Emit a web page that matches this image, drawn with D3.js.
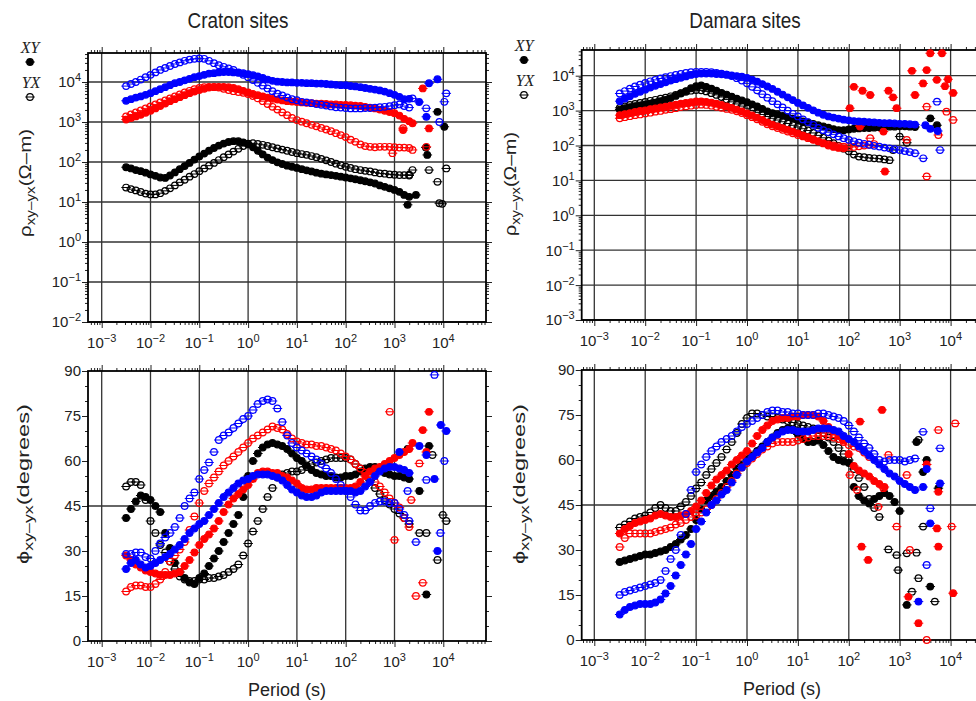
<!DOCTYPE html>
<html>
<head>
<meta charset="utf-8">
<script src="https://cdn.jsdelivr.net/npm/d3@7"></script>
<style>
body { margin: 0; background: #fff; }
svg { display: block; }
text { font-family: "Liberation Sans", Arial, sans-serif; fill: #222; }
text.serif { font-family: "Liberation Serif", "Times New Roman", serif; font-style: italic; }
</style>
</head>
<body>
<svg id="chart" width="976" height="701"></svg>
<script>
// periods (s) of the continuous part of every sounding
const periods = [0.00316, 0.00398, 0.00501, 0.00631, 0.00794,
  0.01, 0.0126, 0.0158, 0.02, 0.0251, 0.0316, 0.0398, 0.0501, 0.0631, 0.0794,
  0.1, 0.126, 0.158, 0.2, 0.251, 0.316, 0.398, 0.501, 0.631, 0.794,
  1, 1.26, 1.58, 2, 2.51, 3.16, 3.98, 5.01, 6.31, 7.94,
  10, 12.6, 15.8, 20, 25.1, 31.6, 39.8, 50.1, 63.1, 79.4,
  100, 126, 158, 200, 251, 316, 398, 501, 631, 794,
  1000, 1260, 1580, 2000];

// apparent resistivity (ohm-m), Craton sites
const cratonRhoSite1XY = [74, 69, 63, 59, 54, 49, 45, 41, 40, 46, 55, 66, 79, 95, 115, 138, 162, 191, 224, 257, 288, 316, 331, 331, 309, 275, 234, 191, 155, 129, 112, 98, 89, 81, 76, 71, 66, 62, 58, 54, 51, 49, 47, 45, 43, 41, 39, 37, 35, 33, 31, 29, 26, 24, 22, 20, 18, 15, 13.5];
const cratonRhoSite1YX = [23, 21, 19.5, 17.8, 16.2, 15.5, 15.5, 16.6, 19, 22, 26, 31, 36, 43, 50, 59, 69, 81, 95, 112, 132, 155, 182, 214, 251, 288, 295, 282, 269, 251, 234, 219, 204, 191, 178, 166, 158, 151, 141, 132, 120, 110, 100, 91, 83, 76, 71, 66, 63, 60, 58, 55, 52, 51, 49, 48, 47, 47, 46];
const cratonRhoSite2XY = [1150, 1260, 1380, 1510, 1700, 1910, 2190, 2510, 2880, 3310, 3720, 4170, 4680, 5250, 5750, 6310, 6760, 7240, 7410, 7590, 7590, 7410, 7080, 6610, 6030, 5500, 5010, 4680, 4370, 4070, 3800, 3630, 3470, 3310, 3240, 3160, 3090, 3020, 2950, 2880, 2880, 2820, 2750, 2750, 2690, 2690, 2630, 2570, 2510, 2400, 2290, 2190, 2040, 1910, 1780, 1660, 1450, 1200, 1050];
const cratonRhoSite2YX = [1380, 1550, 1740, 1950, 2190, 2450, 2750, 3090, 3470, 3890, 4370, 4900, 5500, 6030, 6610, 7080, 7410, 7590, 7590, 7240, 6760, 6310, 5890, 5620, 5370, 5010, 4470, 3890, 3310, 2820, 2400, 2040, 1740, 1480, 1260, 1120, 1020, 930, 850, 780, 710, 650, 590, 525, 470, 420, 360, 320, 275, 250, 240, 234, 240, 240, 240, 234, 229, 229, 224];
const cratonRhoSite3XY = [3390, 3720, 4070, 4370, 4790, 5250, 5890, 6610, 7410, 8320, 9330, 10000, 11000, 12000, 13200, 14100, 15100, 16200, 16600, 17400, 17800, 17800, 17400, 17000, 16600, 15800, 14800, 13800, 12600, 11500, 10700, 10200, 10000, 9770, 9770, 9550, 9550, 9330, 9330, 9120, 9120, 8910, 8710, 8510, 8320, 8320, 7940, 7760, 7410, 7080, 6760, 6460, 6170, 5750, 5250, 4790, 4270, 3720, 3800];
const cratonRhoSite3YX = [7900, 8900, 10000, 11500, 13200, 15100, 17400, 20000, 22400, 25100, 28200, 30900, 33900, 36300, 38000, 38900, 38000, 33900, 29500, 26300, 24000, 21900, 20000, 17400, 15100, 13200, 11200, 9500, 8100, 6900, 5900, 5100, 4600, 4100, 3700, 3500, 3200, 3100, 2950, 2800, 2700, 2570, 2450, 2340, 2290, 2240, 2190, 2190, 2190, 2240, 2240, 2290, 2340, 2400, 2500, 2630, 2750, 2500, 2290];

// phase (degrees), Craton sites
const cratonPhaseSite1XY = [41, 44, 46.5, 48.5, 48, 47, 45, 43, 36, 31, 26, 23, 21, 19.5, 19, 21, 22.5, 25, 27.5, 30, 33, 36, 39, 42, 48, 55, 60, 62.5, 64.5, 65.5, 66, 65.5, 65, 64, 62.5, 61, 60, 58.5, 57, 56, 55.5, 55, 55, 54.5, 54.5, 55, 55, 55.5, 56.5, 57.5, 58, 58, 57, 56, 55.5, 55, 55, 54.5, 54];
const cratonPhaseSite1YX = [51.5, 53, 53, 52, 47, 40, 36, 32, 29.5, 26.5, 24, 21.5, 20.5, 20, 20, 20.5, 20.5, 21, 21, 21.5, 22, 23, 24, 25.5, 28.5, 32.5, 36.5, 40, 44, 48, 51, 54.5, 55.5, 56, 56.5, 56.5, 57, 58, 59, 59.5, 60, 60.5, 61, 61, 61, 61, 60.5, 59, 57.5, 56, 53.5, 51, 49, 47, 45.5, 44, 42.5, 41, 39];
const cratonPhaseSite2XY = [28.5, 27, 25.5, 24.5, 23.5, 23, 22.5, 22, 22, 22, 22.5, 23, 25, 27, 29.5, 32, 34, 35.5, 37.5, 40, 43, 45.5, 47.5, 49, 50.5, 52, 54, 56, 56.5, 56.5, 56, 56, 55, 54.5, 53.5, 52.5, 51, 50.5, 50.5, 51, 51, 51, 51, 51, 51, 51, 51, 51.5, 53, 55, 56.5, 57.5, 58, 59, 60, 61, 62, 63, 64];
const cratonPhaseSite2YX = [16.5, 18, 18.5, 18.5, 18, 18, 19, 20.5, 23, 26.5, 28.5, 30.5, 33, 37, 41.5, 46, 50, 52.5, 54.5, 56.5, 58.5, 60, 61.5, 63, 64.5, 66, 67.5, 68.5, 69.5, 70.5, 71.5, 71, 70.5, 69, 67.5, 66.5, 66, 65.5, 65.5, 65, 65, 64.5, 64, 63.5, 62.5, 61.5, 60.5, 59, 57.5, 56, 54.5, 53, 51.5, 49.5, 47.5, 46, 44.5, 41, 38];
const cratonPhaseSite3XY = [24, 26, 27, 25.5, 24.5, 25, 26, 27, 28, 29, 30.5, 32, 34, 36, 37.5, 39, 40, 42, 44, 46, 48, 49.5, 51, 52.5, 53.5, 54, 55, 55.5, 55.5, 55.5, 55, 54.5, 53.5, 52, 50.5, 49.5, 48.5, 48, 48, 48.5, 49.5, 50, 50, 50, 50, 50, 50, 49.5, 50, 51.5, 53, 55, 56.5, 57.5, 58, 58, 57.5, 57, 56];
const cratonPhaseSite3YX = [29, 29, 29.5, 29.5, 28, 27.5, 30, 32.5, 34.5, 36, 38, 41, 45, 47.5, 49.5, 54, 57, 59.5, 63, 67, 68.5, 69.5, 71, 72.5, 74, 75, 77, 79, 80, 80.5, 80, 77.5, 73, 68.5, 66, 64.5, 63.5, 62.5, 61.5, 60.5, 59, 57.5, 56, 54, 52, 50, 48, 45.5, 43.5, 43.5, 45, 46, 46.5, 46.5, 46, 46, 44, 42, 40];

// apparent resistivity (ohm-m), Damara sites
const damaraRhoSite1XY = [1070, 1170, 1260, 1350, 1410, 1480, 1580, 1700, 1860, 2040, 2290, 2630, 3090, 3630, 4370, 5010, 5250, 4790, 4270, 3720, 3240, 2880, 2510, 2190, 1950, 1740, 1510, 1320, 1120, 955, 850, 776, 708, 646, 589, 537, 490, 457, 417, 380, 355, 324, 295, 275, 275, 288, 302, 309, 316, 316, 324, 331, 339, 347, 347, 355, 355, 347, 339];
const damaraRhoSite1YX = [1200, 1320, 1450, 1550, 1660, 1780, 1910, 2040, 2190, 2340, 2570, 2820, 3160, 3470, 3720, 3890, 3800, 3550, 3160, 2820, 2450, 2090, 1780, 1550, 1350, 1170, 1020, 890, 776, 676, 603, 537, 479, 427, 380, 339, 302, 269, 229, 195, 166, 138, 117, 98, 81, 68, 55, 48, 46, 44, 43, 42, 40, 38];
const damaraRhoSite2XY = [741, 794, 851, 912, 977, 1020, 1100, 1150, 1230, 1290, 1380, 1480, 1580, 1660, 1740, 1820, 1820, 1780, 1700, 1580, 1450, 1320, 1200, 1070, 955, 832, 724, 631, 537, 457, 398, 355, 316, 282, 251, 224, 195, 174, 151, 132, 115, 100, 91, 85, 83];
const damaraRhoSite2YX = [603, 646, 692, 741, 776, 832, 871, 933, 977, 1050, 1100, 1170, 1260, 1320, 1380, 1450, 1480, 1450, 1380, 1290, 1200, 1120, 1050, 955, 851, 741, 646, 562, 479, 407, 355, 316, 282, 251, 224, 200, 182, 162, 145, 132, 117, 107, 100, 95, 93, 91, 91, 95, 100, 105, 110];
const damaraRhoSite3XY = [1860, 2190, 2570, 3020, 3470, 3980, 4570, 5130, 5750, 6460, 7240, 7940, 8710, 9550, 10500, 11200, 11500, 11500, 11500, 11200, 11000, 10700, 10200, 9770, 9330, 8710, 7760, 6760, 5750, 4900, 4170, 3470, 2880, 2400, 2000, 1660, 1410, 1200, 1020, 870, 760, 680, 630, 590, 550, 525, 500, 490, 479, 468, 457, 447, 437, 437, 427, 417, 417, 407, 398];
const damaraRhoSite3YX = [3090, 3630, 4270, 4900, 5500, 6170, 6920, 7590, 8320, 9120, 9770, 10500, 11200, 12000, 12600, 12900, 12900, 12900, 12600, 12000, 11500, 10700, 9770, 8510, 7240, 6030, 4790, 3800, 2950, 2340, 1860, 1510, 1230, 1000, 810, 680, 560, 470, 390, 320, 275, 240, 209, 182, 162, 145, 132, 120, 112, 105, 98, 93, 87, 83, 78, 74, 69, 65, 60];

// phase (degrees), Damara sites
const damaraPhaseSite1XY = [26, 26.5, 27, 27.5, 28, 28.5, 28.5, 29, 29.5, 30, 31, 32, 33.5, 35, 37, 40, 43.5, 46.5, 48, 49.5, 51, 53, 55, 57, 58.5, 60, 61.5, 63, 64.5, 66, 67.5, 69, 70, 70.5, 70, 68.5, 67, 66, 66, 66.5, 65, 63, 61, 60, 59.5, 59, 51, 48, 46.5, 45.5, 47, 48, 49, 48, 46, 43];
const damaraPhaseSite1YX = [37.5, 38.5, 39.5, 40.5, 41, 41.5, 42.5, 44, 45, 44, 43, 43, 44.5, 46, 48, 50.5, 52.5, 55, 57, 59, 61, 63.5, 66, 69, 72, 74, 75.5, 75.5, 75, 74.5, 74.5, 74, 73.5, 73, 72.5, 72, 71.5, 71, 70.5, 70, 69, 67.5, 66, 64, 62, 60, 57, 54, 51, 47, 44, 41];
const damaraPhaseSite2XY = [35.5, 37, 38, 39, 39.5, 40, 40.5, 41.5, 42, 41.5, 41, 41, 41.5, 42, 43, 44.5, 46.5, 49, 51.5, 53.5, 55, 56.5, 58.5, 60, 61.5, 63, 65.5, 68, 70, 71.5, 73, 73.5, 74, 74, 74.5, 74.5, 75, 75, 75, 74.5, 73, 71, 69.5, 68, 66.5, 62, 58, 56.5, 55.5, 54.5, 53, 52, 51];
const damaraPhaseSite2YX = [31, 34, 35.5, 35.5, 35.5, 35.5, 35.5, 36, 36.5, 37, 37.5, 38.5, 39, 40, 41, 41.5, 42.5, 43.5, 45, 47, 49, 51, 53, 55.5, 57.5, 59, 60.5, 62, 63.5, 64.5, 65.5, 66, 66, 66, 66, 66.5, 67, 67.5, 68, 68, 68, 68, 67.5, 67, 66, 65, 64.5, 64, 62.5, 61];
const damaraPhaseSite3XY = [8.5, 10, 11, 11.5, 12, 12, 12, 12.5, 13.5, 15.5, 18, 21.5, 25, 28.5, 32, 37, 39.5, 42.5, 45, 46.5, 48.5, 50, 52.5, 55, 57.5, 59.5, 61, 62.5, 64, 66, 67.5, 68.5, 69.5, 70, 70, 69.5, 69.5, 69.5, 70, 70.5, 70.5, 70.5, 70, 69.5, 68, 67, 66, 64.5, 63, 61.5, 60, 58.5, 57, 55.5, 54.5, 53, 52, 51, 50];
const damaraPhaseSite3YX = [15, 16, 16.5, 17, 17.5, 18, 18.5, 19, 20, 23, 27, 30, 35, 42, 50, 56, 58.5, 61, 63, 64.5, 66, 67, 68, 69.5, 71, 72, 73, 74, 75, 76, 76.5, 76.5, 76, 76, 75.5, 75.5, 75, 75, 75, 75.5, 75.5, 75, 74.5, 74, 73, 71.5, 69.5, 67.5, 65.5, 64, 62, 60, 59.5, 60, 60, 60, 59.5, 60, 60.5];

// scattered long-period estimates: [site, mode, period (s), value]
const cratonRhoScatter = [
  ["site3", "XY", 3200, 3160], ["site3", "XY", 4500, 1350], ["site3", "XY", 5100, 9300], ["site3", "XY", 7600, 11700],
  ["site3", "YX", 2340, 3900], ["site3", "YX", 4470, 2200], ["site3", "YX", 11500, 5200], ["site3", "YX", 10500, 3200], ["site3", "YX", 8300, 1000],
  ["site2", "XY", 2340, 930], ["site2", "XY", 3800, 6900], ["site2", "XY", 5100, 690], ["site2", "XY", 1500, 630],
  ["site2", "YX", 910, 166], ["site2", "YX", 2340, 200], ["site2", "YX", 4500, 240], ["site2", "YX", 1500, 700],
  ["site1", "XY", 1860, 8.5], ["site1", "XY", 2750, 15], ["site1", "XY", 4400, 230], ["site1", "XY", 4700, 150], ["site1", "XY", 7600, 1800], ["site1", "XY", 10500, 760],
  ["site1", "YX", 2340, 63], ["site1", "YX", 5100, 63], ["site1", "YX", 11500, 69], ["site1", "YX", 7600, 32], ["site1", "YX", 8300, 9.3], ["site1", "YX", 9500, 9], ["site1", "YX", 2000, 48]
];
const cratonPhaseScatter = [
  ["site1", "XY", 3240, 50], ["site1", "XY", 5100, 65], ["site1", "XY", 1860, 64], ["site1", "XY", 4500, 15.5],
  ["site1", "YX", 4500, 36], ["site1", "YX", 6000, 62], ["site1", "YX", 9800, 42], ["site1", "YX", 11500, 40], ["site1", "YX", 7600, 27], ["site1", "YX", 3240, 36],
  ["site2", "XY", 3800, 70.3], ["site2", "XY", 5100, 76.4], ["site2", "XY", 2340, 66], ["site2", "XY", 4500, 63],
  ["site2", "YX", 800, 76.4], ["site2", "YX", 3240, 59.2], ["site2", "YX", 1000, 33.7], ["site2", "YX", 3800, 19.4], ["site2", "YX", 2750, 15], ["site2", "YX", 2200, 47],
  ["site3", "XY", 1260, 63], ["site3", "XY", 3240, 65], ["site3", "XY", 8900, 72], ["site3", "XY", 11500, 70], ["site3", "XY", 6600, 54], ["site3", "XY", 7600, 30], ["site3", "XY", 4500, 62],
  ["site3", "YX", 2750, 33], ["site3", "YX", 6600, 88.7], ["site3", "YX", 10500, 60], ["site3", "YX", 8700, 36], ["site3", "YX", 4500, 53.7], ["site3", "YX", 1860, 50]
];
const damaraRhoScatter = [
  ["site1", "XY", 4000, 600], ["site1", "XY", 5400, 380],
  ["site1", "YX", 740, 74], ["site1", "YX", 1000, 180], ["site1", "YX", 1380, 120],
  ["site2", "XY", 126, 4800], ["site2", "XY", 186, 3700], ["site2", "XY", 263, 2800], ["site2", "XY", 603, 3700], ["site2", "XY", 741, 2400],
  ["site2", "XY", 871, 1170], ["site2", "XY", 1740, 13800], ["site2", "XY", 2000, 2800], ["site2", "XY", 2880, 6000], ["site2", "XY", 3390, 14500],
  ["site2", "XY", 3980, 44000], ["site2", "XY", 5370, 7600], ["site2", "XY", 6760, 44000], ["site2", "XY", 7760, 5000], ["site2", "XY", 8910, 7900],
  ["site2", "XY", 11200, 3200], ["site2", "XY", 513, 18], ["site2", "XY", 105, 1170], ["site2", "XY", 480, 250], ["site2", "XY", 166, 350],
  ["site2", "YX", 166, 390], ["site2", "YX", 263, 162], ["site2", "YX", 1380, 145], ["site2", "YX", 3390, 13], ["site2", "YX", 5750, 200],
  ["site2", "YX", 3390, 1290], ["site2", "YX", 8300, 930], ["site2", "YX", 11200, 540],
  ["site3", "XY", 4000, 300], ["site3", "XY", 5600, 260], ["site3", "XY", 3200, 380],
  ["site3", "YX", 5400, 1800], ["site3", "YX", 6200, 74], ["site3", "YX", 2900, 43]
];
const damaraPhaseScatter = [
  ["site1", "XY", 2140, 66], ["site1", "XY", 3390, 60], ["site1", "XY", 2880, 56], ["site1", "XY", 5750, 50.6], ["site1", "XY", 1380, 11.7], ["site1", "XY", 3980, 17.8],
  ["site1", "YX", 600, 30.2], ["site1", "YX", 870, 28.3], ["site1", "YX", 1380, 28.9], ["site1", "YX", 2140, 29.1], ["site1", "YX", 930, 23.3],
  ["site1", "YX", 2340, 20.6], ["site1", "YX", 1740, 16.1], ["site1", "YX", 4900, 12.8], ["site1", "YX", 2340, 66.7], ["site1", "YX", 2880, 37.8],
  ["site2", "XY", 450, 76.7], ["site2", "XY", 3390, 58.5], ["site2", "XY", 5750, 49.4], ["site2", "XY", 178, 31.1], ["site2", "XY", 240, 26.7], ["site2", "XY", 1480, 14.4],
  ["site2", "XY", 2340, 5.6], ["site2", "XY", 11200, 15.6], ["site2", "XY", 5750, 31.1], ["site2", "XY", 5400, 37.2], ["site2", "XY", 166, 72.8],
  ["site2", "YX", 105, 55], ["site2", "YX", 145, 50], ["site2", "YX", 480, 50.6], ["site2", "YX", 600, 61.7], ["site2", "YX", 380, 44.4], ["site2", "YX", 1380, 55],
  ["site2", "YX", 870, 37.8], ["site2", "YX", 5750, 70], ["site2", "YX", 12300, 72.2], ["site2", "YX", 10500, 37.8], ["site2", "YX", 1580, 30], ["site2", "YX", 3390, 0],
  ["site3", "XY", 6200, 52.2], ["site3", "XY", 3980, 38.9], ["site3", "XY", 3390, 57], ["site3", "XY", 2340, 12.8], ["site3", "XY", 2880, 51],
  ["site3", "YX", 2880, 69.4], ["site3", "YX", 6200, 63.9], ["site3", "YX", 3980, 43.9], ["site3", "YX", 3390, 25]
];

// axis ticks and labels
const periodDecades = [1e-3, 1e-2, 1e-1, 1, 10, 100, 1000, 10000];
const cratonRhoDecades = [1e-2, 1e-1, 1, 10, 100, 1000, 10000];
const damaraRhoDecades = [1e-3, 1e-2, 1e-1, 1, 10, 100, 1000, 10000];
const phaseTicks = [0, 15, 30, 45, 60, 75, 90];
const panelTitles = ["Craton sites", "Damara sites"];

const siteColor = { site1: "#000000", site2: "#ff0000", site3: "#0000ff" };

let svg = d3.select("#chart");

function marker(g, cx, cy, color, filled) {
  g.append("line")
    .attr("x1", cx - 4.8).attr("x2", cx + 4.8)
    .attr("y1", cy).attr("y2", cy)
    .attr("stroke", color).attr("stroke-width", 1);
  g.append("circle")
    .attr("cx", cx).attr("cy", cy).attr("r", 3.3)
    .attr("fill", filled ? color : "none")
    .attr("stroke", color).attr("stroke-width", 1.2);
}

function powerLabel(t, d) {
  let e = Math.round(Math.log10(d));
  t.append("tspan").text("10");
  t.append("tspan").attr("dy", -6).attr("font-size", 11).text(e < 0 ? "\u2212" + (-e) : e);
}

function rotatedTitle(x, y, sym, tail, len) {
  let t = svg.append("text")
    .attr("text-anchor", "middle")
    .attr("font-size", 16);
  t.append("tspan").text(sym);
  t.append("tspan").attr("font-size", 12).attr("dy", 4).text("xy\u2013yx");
  t.append("tspan").attr("dy", -4).text(tail);
  let k = len / t.node().getComputedTextLength();
  t.attr("transform", "translate(" + x + "," + y + ") rotate(-90) scale(" + k + ",1)");
}

function drawPanel(p) {
  let g = svg.append("g");
  let x = d3.scaleLog().domain([1e-3, 1e4]).range(p.xPx);
  let y = p.yLog
    ? d3.scaleLog().domain(p.yDec).range(p.yPx)
    : d3.scaleLinear().domain([0, 90]).range([p.bottom, p.top]);

  // grid
  periodDecades.forEach(d => {
    g.append("line").attr("x1", x(d)).attr("x2", x(d))
      .attr("y1", p.top).attr("y2", p.bottom)
      .attr("stroke", "#333").attr("stroke-width", 1.3);
  });
  p.hGrid.forEach(v => {
    g.append("line").attr("x1", p.left).attr("x2", p.right)
      .attr("y1", y(v)).attr("y2", y(v))
      .attr("stroke", "#333").attr("stroke-width", 1.3);
  });

  // ticks on all four sides
  let xMinor = [];
  for (let n = -4; n <= 4; n++) {
    for (let k = 2; k <= 9; k++) {
      let v = k * Math.pow(10, n);
      if (x(v) > p.left && x(v) < p.right) xMinor.push(v);
    }
  }
  let yMinor = [];
  if (p.yLog) {
    for (let n = -3; n <= 4; n++) {
      for (let k = 2; k <= 9; k++) {
        let v = k * Math.pow(10, n);
        if (y(v) > p.top && y(v) < p.bottom) yMinor.push(v);
      }
    }
  } else {
    for (let v = 5; v < 90; v += 5) if (v % 15) yMinor.push(v);
  }
  let yMajor = p.yLog ? p.yTicks : phaseTicks;

  let axes = [
    [d3.axisBottom, x, "translate(0," + p.bottom + ")", xMinor, periodDecades],
    [d3.axisTop, x, "translate(0," + p.top + ")", xMinor, periodDecades],
    [d3.axisLeft, y, "translate(" + p.left + ",0)", yMinor, yMajor],
    [d3.axisRight, y, "translate(" + p.right + ",0)", yMinor, yMajor]
  ];
  axes.forEach(([fn, sc, tr, minor, major]) => {
    g.append("g").attr("transform", tr).attr("color", "#222")
      .call(fn(sc).tickValues(minor).tickSize(3).tickFormat(""))
      .call(a => a.select(".domain").remove());
    g.append("g").attr("transform", tr).attr("color", "#222")
      .call(fn(sc).tickValues(major).tickSize(6).tickFormat(""))
      .call(a => a.select(".domain").remove());
  });

  // frame
  g.append("rect").attr("x", p.left).attr("y", p.top)
    .attr("width", p.right - p.left).attr("height", p.bottom - p.top)
    .attr("fill", "none").attr("stroke", "#000").attr("stroke-width", 1.8);

  // tick labels
  periodDecades.forEach(d => {
    let t = g.append("text").attr("x", x(d)).attr("y", p.bottom + 26)
      .attr("text-anchor", "middle").attr("font-size", 15);
    powerLabel(t, d);
  });
  yMajor.forEach(v => {
    let t = g.append("text").attr("x", p.left - 7).attr("y", y(v))
      .attr("dy", "0.36em").attr("text-anchor", "end").attr("font-size", 15);
    if (p.yLog) powerLabel(t, v); else t.text(v);
  });

  // data
  let dots = g.append("g");
  p.series.forEach(s => {
    s.values.forEach((v, i) => {
      if (v != null) marker(dots, x(periods[i]), y(v), siteColor[s.site], s.mode === "XY");
    });
    p.scatter.filter(d => d[0] === s.site && d[1] === s.mode)
      .forEach(d => marker(dots, x(d[2]), y(d[3]), siteColor[d[0]], d[1] === "XY"));
  });

  if (p.periodLabel) {
    g.append("text").attr("x", p.periodLabel[0]).attr("y", p.periodLabel[1])
      .attr("text-anchor", "middle").attr("font-size", 18).text("Period (s)");
  }
}

function seriesList(s1xy, s1yx, s2xy, s2yx, s3xy, s3yx) {
  return [
    { site: "site1", mode: "XY", values: s1xy }, { site: "site1", mode: "YX", values: s1yx },
    { site: "site2", mode: "XY", values: s2xy }, { site: "site2", mode: "YX", values: s2yx },
    { site: "site3", mode: "XY", values: s3xy }, { site: "site3", mode: "YX", values: s3yx }
  ];
}

// Craton apparent resistivity
drawPanel({
  left: 88, right: 486, top: 53, bottom: 322,
  xPx: [101.7, 443.3],
  yLog: true, yDec: [1e-2, 1e4], yPx: [322, 82], yTicks: cratonRhoDecades,
  hGrid: cratonRhoDecades,
  series: seriesList(cratonRhoSite1XY, cratonRhoSite1YX, cratonRhoSite2XY, cratonRhoSite2YX, cratonRhoSite3XY, cratonRhoSite3YX),
  scatter: cratonRhoScatter
});
// Damara apparent resistivity
drawPanel({
  left: 581.7, right: 980, top: 50, bottom: 320,
  xPx: [594.3, 950.6],
  yLog: true, yDec: [1e-3, 1e4], yPx: [320, 75.7], yTicks: damaraRhoDecades,
  hGrid: damaraRhoDecades,
  series: seriesList(damaraRhoSite1XY, damaraRhoSite1YX, damaraRhoSite2XY, damaraRhoSite2YX, damaraRhoSite3XY, damaraRhoSite3YX),
  scatter: damaraRhoScatter
});
// Craton phase
drawPanel({
  left: 88, right: 486, top: 371, bottom: 641,
  xPx: [101.7, 443.3],
  yLog: false, hGrid: [45],
  series: seriesList(cratonPhaseSite1XY, cratonPhaseSite1YX, cratonPhaseSite2XY, cratonPhaseSite2YX, cratonPhaseSite3XY, cratonPhaseSite3YX),
  scatter: cratonPhaseScatter,
  periodLabel: [287, 696]
});
// Damara phase
drawPanel({
  left: 581.7, right: 980, top: 370, bottom: 640,
  xPx: [594.3, 950.6],
  yLog: false, hGrid: [45],
  series: seriesList(damaraPhaseSite1XY, damaraPhaseSite1YX, damaraPhaseSite2XY, damaraPhaseSite2YX, damaraPhaseSite3XY, damaraPhaseSite3YX),
  scatter: damaraPhaseScatter,
  periodLabel: [782, 695]
});

// titles (narrow, tall lettering as in the source figure)
[[238, panelTitles[0]], [745, panelTitles[1]]].forEach(([cx, label]) => {
  svg.append("text").attr("text-anchor", "middle")
    .attr("font-size", 22)
    .attr("transform", "translate(" + cx + ",28) scale(0.86,1)")
    .text(label);
});

// axis titles
rotatedTitle(31, 183, "\u03C1", "(\u03A9\u2013m)", 108);
rotatedTitle(516, 184, "\u03C1", "(\u03A9\u2013m)", 104);
rotatedTitle(29, 484, "\u03D5", "(degrees)", 160);
rotatedTitle(525, 484, "\u03D5", "(degrees)", 160);

// mode legends
[[29, 30, 0], [523, 524, -2]].forEach(([mx, tx, off]) => {
  svg.append("text").attr("class", "serif").attr("x", tx).attr("y", 53 + off)
    .attr("text-anchor", "middle").attr("font-size", 16).text("XY");
  marker(svg, mx + 1, 62 + off, "#000", true);
  svg.append("text").attr("class", "serif").attr("x", tx + 1).attr("y", 88 + off)
    .attr("text-anchor", "middle").attr("font-size", 16).text("YX");
  marker(svg, mx + 1, 97 + off, "#000", false);
});
</script>
</body>
</html>
